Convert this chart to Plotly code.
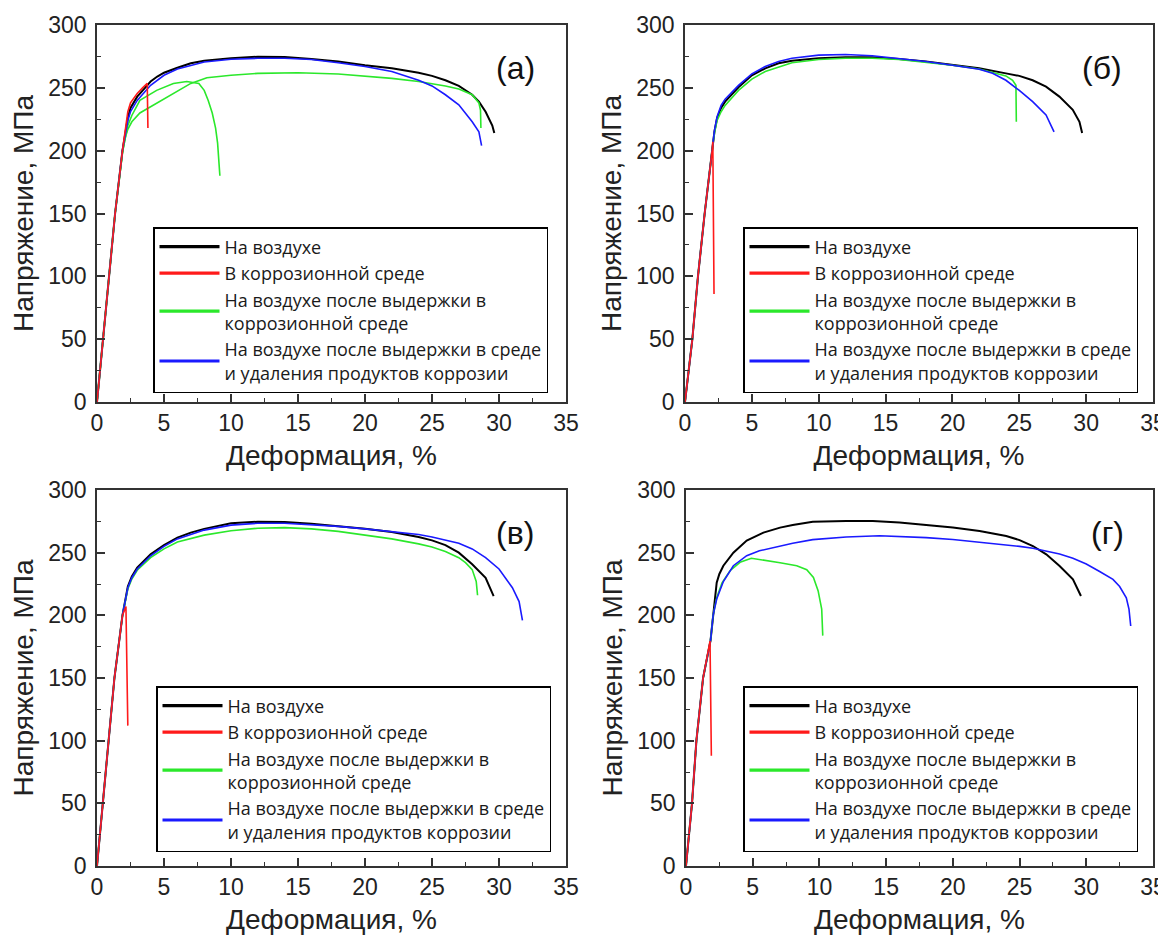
import plotly.graph_objects as go

# ---------------- data (strain %, stress MPa) ----------------
# panel (а)
a_air_x = [0, 0.45, 0.85, 1.35, 1.9, 2.1, 2.3, 2.5, 3, 3.5, 4, 4.5, 5, 6, 7, 8, 10, 12, 14, 16, 18, 20, 22, 24, 25, 26, 27, 28, 28.5, 29, 29.5, 29.65]
a_air_y = [0, 50, 100, 150, 200, 214, 226, 234, 243, 249, 255, 259, 262, 266, 269.5, 271.5, 273.5, 274.8, 274.5, 273, 271, 268, 265.5, 262, 259.5, 256, 251.5, 244.5, 239, 231, 220, 214]
a_corr_x = [0, 0.45, 0.85, 1.35, 1.9, 2.1, 2.3, 2.5, 3, 3.4, 3.75, 3.8]
a_corr_y = [0, 50, 100, 150, 200, 218, 231, 238, 245.5, 250, 253.5, 218]
a_hold_x = [0, 0.45, 0.85, 1.35, 1.9, 2.1, 2.3, 2.6, 3.2, 4, 4.5, 5.7, 7, 8.2, 10, 12, 15, 18, 20, 22, 24, 25, 26, 27, 28, 28.5, 28.62, 28.65]
a_hold_y = [0, 50, 100, 150, 198, 210, 217, 223, 230, 235, 238, 246, 253.5, 258, 260, 261.5, 262, 261, 259.5, 257.5, 255, 253.5, 251.5, 249, 244.5, 238, 232, 218]
a_hold2_x = [0, 0.45, 0.85, 1.35, 1.9, 2.1, 2.3, 2.6, 3.2, 4.45, 5.7, 6.7, 7.6, 8.0, 8.3, 8.6, 8.85, 9.0, 9.1, 9.17]
a_hold2_y = [0, 50, 100, 150, 199, 211, 220, 228, 240, 248, 253.5, 255, 253.5, 248, 240, 230, 218, 206, 194, 180]
a_clean_x = [0, 0.45, 0.85, 1.35, 1.9, 2.1, 2.3, 2.5, 3, 4, 5, 6, 8, 10, 12, 14, 16, 18, 20, 22, 24, 25, 26, 27, 28, 28.5, 28.7]
a_clean_y = [0, 50, 100, 150, 200, 213, 224, 231, 240, 252, 260, 265, 270.5, 272.8, 273.5, 273.5, 272.5, 270, 267, 263, 256, 251.5, 244.5, 236.5, 223, 215, 204]

# panel (б)
b_air_x = [0, 0.55, 0.97, 1.47, 2.03, 2.2, 2.4, 2.7, 3, 4, 5, 6, 7, 8, 10, 12, 14, 16, 18, 20, 22, 24, 25, 26, 27, 28, 29, 29.5, 29.7]
b_air_y = [0, 50, 100, 150, 200, 215, 226, 234, 239, 250.5, 260, 265.5, 269.5, 271.5, 273.5, 274.3, 274.3, 273, 271, 268, 265.5, 261.5, 259.5, 256, 251, 243, 232.5, 223, 214]
b_corr_x = [0, 0.55, 0.97, 1.47, 2.03, 2.08, 2.17]
b_corr_y = [0, 50, 100, 150, 200, 207, 86]
b_hold_x = [0, 0.55, 0.97, 1.47, 2.03, 2.2, 2.4, 2.7, 3, 4, 5, 6, 8, 10, 12, 14, 16, 18, 20, 22, 24, 24.5, 24.75, 24.78]
b_hold_y = [0, 50, 100, 150, 200, 214, 224, 231, 236, 248, 257, 263, 270, 272.5, 273.5, 273.5, 272.5, 270.5, 268, 265, 259.5, 256, 252, 223]
b_clean_x = [0, 0.55, 0.97, 1.47, 2.03, 2.2, 2.4, 2.7, 3, 4, 5, 6, 7, 8, 10, 12, 14, 16, 18, 20, 22, 23, 24, 25, 26, 27, 27.6]
b_clean_y = [0, 50, 100, 150, 200, 216, 227, 236, 241, 252, 261, 267, 271, 273.5, 276, 276.5, 275.5, 273.5, 271, 268, 264.8, 261.6, 256, 248, 239, 228.5, 215]

# panel (в)
c_air_x = [0, 0.45, 0.85, 1.3, 1.9, 2.1, 2.3, 2.6, 3, 4, 5, 6, 7, 8, 10, 12, 14, 16, 18, 20, 22, 24, 25, 26, 27, 28, 29, 29.6]
c_air_y = [0, 50, 100, 150, 200, 213, 223, 231, 238, 248.7, 256, 262, 266, 269, 273.4, 274.7, 274.5, 273, 271.3, 269, 266.5, 262.5, 259.8, 256, 250, 240.7, 230, 215.4]
c_corr_x = [0, 0.45, 0.85, 1.3, 1.9, 2.16, 2.3]
c_corr_y = [0, 50, 100, 150, 200, 207, 112]
c_hold_x = [0, 0.45, 0.85, 1.3, 1.9, 2.1, 2.3, 2.6, 3, 4, 5, 6, 8, 10, 12, 14, 16, 18, 20, 22, 24, 25, 26, 27, 27.5, 28, 28.3, 28.4]
c_hold_y = [0, 50, 100, 150, 200, 212, 221, 229, 236, 246, 253, 258.5, 264, 267.5, 269.5, 270, 269, 267, 264, 261, 257, 254.5, 251, 246, 242, 236.5, 227, 216]
c_clean_x = [0, 0.45, 0.85, 1.3, 1.9, 2.1, 2.3, 2.6, 3, 4, 5, 6, 8, 10, 12, 14, 16, 18, 20, 22, 24, 25, 26, 27, 28, 29, 30, 31, 31.5, 31.75]
c_clean_y = [0, 50, 100, 150, 200, 212, 222, 230, 237, 247.5, 255, 261, 268, 272, 273.5, 273.5, 272.5, 271, 269, 267, 264.5, 262.5, 260, 257.5, 253, 246, 237, 222, 211, 196]

# panel (г)
d_air_x = [0, 0.45, 0.78, 1.28, 1.84, 2.03, 2.15, 2.3, 2.5, 2.8, 3.55, 4.55, 5.8, 7.05, 8, 9.5, 12, 14, 16, 18, 20, 22, 24, 25, 26, 27, 28, 29, 29.6]
d_air_y = [0, 50, 100, 150, 180, 200, 213, 226, 233, 239.6, 250, 259.6, 266, 270, 272, 274.7, 275.3, 275.3, 274, 272, 270, 267.3, 263.3, 260, 255.3, 248.7, 239.4, 228.7, 215.4]
d_corr_x = [0, 0.45, 0.78, 1.28, 1.8, 1.9]
d_corr_y = [0, 50, 100, 150, 179.5, 88]
d_hold_x = [0, 0.45, 0.78, 1.28, 1.84, 2.03, 2.3, 2.7, 3.3, 4.05, 4.9, 5.8, 7.05, 8.3, 9.05, 9.55, 9.9, 10.17, 10.25]
d_hold_y = [0, 50, 100, 150, 180, 200, 214, 226, 235.6, 242.3, 245.5, 244.2, 242, 239.6, 236.4, 230.3, 219.7, 205, 183.8]
d_clean_x = [0, 0.45, 0.78, 1.28, 1.84, 2.03, 2.3, 2.8, 3.55, 4.55, 5.5, 7.05, 8, 9.5, 12, 14.5, 16, 18, 20, 22, 24, 25, 26, 27, 28, 29, 30, 31, 32, 32.5, 33, 33.2, 33.33]
d_clean_y = [0, 50, 100, 150, 180, 200, 213, 227, 239.6, 247.6, 251.5, 255.6, 257.5, 260.4, 262.5, 263.5, 263, 262, 260.5, 258.5, 256, 255, 253.5, 251.5, 249, 245.5, 241, 235, 228.7, 223, 214, 205, 191.5]

series_names = [
    "На воздухе",
    "В коррозионной среде",
    "На воздухе после выдержки в<br>коррозионной среде",
    "На воздухе после выдержки в среде<br>и удаления продуктов коррозии",
]
panel_labels = ["(а)", "(б)", "(в)", "(г)"]
x_title = "Деформация, %"
y_title = "Напряжение, МПа"

keys = ["air", "corr", "hold", "clean"]
colors = {"air": "#000000", "corr": "#ff1a1a", "hold": "#2be82b", "clean": "#1a1aff"}
name_of = dict(zip(keys, series_names))

panels = [
    [("air", a_air_x, a_air_y), ("hold", a_hold_x, a_hold_y), ("hold", a_hold2_x, a_hold2_y),
     ("clean", a_clean_x, a_clean_y), ("corr", a_corr_x, a_corr_y)],
    [("air", b_air_x, b_air_y), ("hold", b_hold_x, b_hold_y),
     ("clean", b_clean_x, b_clean_y), ("corr", b_corr_x, b_corr_y)],
    [("air", c_air_x, c_air_y), ("hold", c_hold_x, c_hold_y),
     ("clean", c_clean_x, c_clean_y), ("corr", c_corr_x, c_corr_y)],
    [("air", d_air_x, d_air_y), ("hold", d_hold_x, d_hold_y),
     ("clean", d_clean_x, d_clean_y), ("corr", d_corr_x, d_corr_y)],
]

W, H = 1166, 941
OFF = 8  # page body margin offset
# plot boxes in screen pixels (left, right, top, bottom)
boxes = [(97, 566, 25, 402), (685, 1153, 25, 402), (97, 566, 490, 866), (686, 1153, 490, 866)]
legend_pos = [(153, 227), (743, 227), (156, 686), (743, 686)]
label_x = [31.2, 31.2, 31.2, 31.6]


def px_x(p):
    return (p - OFF) / W


def px_y(p):
    return 1 - (p - OFF) / H


fig = go.Figure()
layout = dict(
    width=W, height=H, margin=dict(l=0, r=0, t=0, b=0),
    paper_bgcolor="white", plot_bgcolor="white",
    font=dict(family="Liberation Sans, Arial", color="#222"),
    annotations=[],
)

tick_font = dict(family="Liberation Sans, Arial", size=23, color="#222")
title_font = dict(family="Liberation Sans, Arial", size=28, color="#222")

for i, curves in enumerate(panels):
    k = "" if i == 0 else str(i + 1)
    leg = "legend" + k
    for key, xs, ys in curves:
        fig.add_trace(go.Scatter(
            x=xs, y=ys, mode="lines", name=name_of[key],
            line=dict(color=colors[key], width=2 if key == "air" else 1.6),
            xaxis="x" + k, yaxis="y" + k, legend=leg, showlegend=False,
        ))
    for key in keys:
        fig.add_trace(go.Scatter(
            x=[None], y=[None], mode="lines", name=name_of[key],
            line=dict(color=colors[key], width=3.2),
            xaxis="x" + k, yaxis="y" + k, legend=leg, showlegend=True,
        ))
    l, r, t, b = boxes[i]
    common = dict(
        showline=True, linecolor="#333", linewidth=1.5, mirror=True,
        ticks="inside", ticklen=8, tickwidth=1.5, tickcolor="#333",
        showgrid=False, zeroline=False, tickfont=tick_font, automargin=False,
    )
    layout["xaxis" + k] = dict(
        domain=[px_x(l), px_x(r)], anchor="y" + k, range=[0, 35], dtick=5, tick0=0,
        minor=dict(ticks="inside", ticklen=4, dtick=2.5, tickcolor="#333", tickwidth=1.2),
        title=dict(text=x_title, font=title_font, standoff=10), **common)
    layout["yaxis" + k] = dict(
        domain=[px_y(b), px_y(t)], anchor="x" + k, range=[0, 300], dtick=50, tick0=0,
        minor=dict(ticks="inside", ticklen=4, dtick=25, tickcolor="#333", tickwidth=1.2),
        ticklabelstandoff=4,
        title=dict(text=y_title, font=title_font, standoff=6), **common)
    lx, ly = legend_pos[i]
    layout[leg] = dict(
        x=px_x(lx), y=px_y(ly), xanchor="left", yanchor="top", xref="paper", yref="paper",
        bgcolor="white", bordercolor="#000", borderwidth=1.5,
        font=dict(family="Open Sans", size=18, color="#1a1a1a"),
        itemwidth=60, tracegroupgap=0, traceorder="normal",
    )
    layout["annotations"].append(dict(
        text=panel_labels[i], xref="x" + k, yref="y" + k, x=label_x[i], y=266,
        showarrow=False, font=dict(family="Liberation Sans, Arial", size=32, color="#111"),
    ))

fig.update_layout(**layout)
fig.write_html("out.html")
